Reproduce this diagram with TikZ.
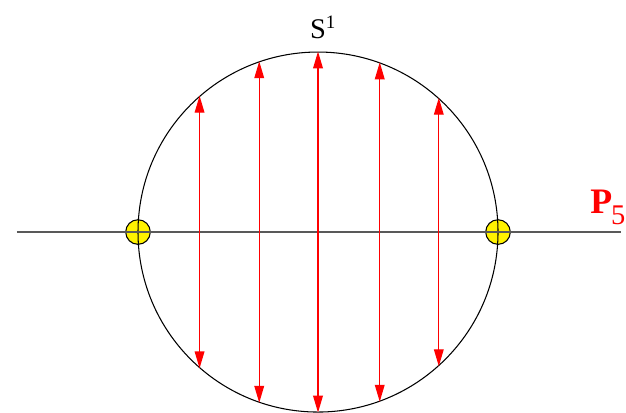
\documentclass[tikz,border=0pt]{standalone}
\usepackage{fontspec}
\setmainfont{Liberation Serif}
\usetikzlibrary{positioning,arrows.meta}

\begin{document}
\begin{tikzpicture}[
            pnt/.style={circle, draw, fill=yellow, minimum size=4.1mm, inner sep=0pt, line width=0.5pt},
            arr/.style={draw=red, line width=0.6pt, {Triangle[length=8pt,width=4.6pt]}-{Triangle[length=8pt,width=4.6pt]}},
            axis/.style={draw=black!65, line width=1pt},
            lbl/.style={inner sep=0pt, font=\fontsize{13.5}{15}\selectfont}
        ]
        \useasboundingbox (-5.3,-3.0) rectangle (5.133,3.867);

        % Fixed points on the axis
        \node[pnt] (L) at (-3,0) {};
        \node[pnt] (R) at (3,0)  {};

        % The circle
        \node[circle, draw, line width=0.5pt, minimum size=6cm, inner sep=0pt] (S) at (0,0) {};

        % Axis ends
        \coordinate (A) at (-5.02,0);
        \coordinate (B) at (5.05,0);
        \draw[axis] (A) -- (B);

        % Labels
        \node[lbl, anchor=base] (T) at (0.08,3.23) {S\raisebox{4.8pt}{\fontsize{9}{10}\selectfont 1}};
        \node[lbl, text=red, anchor=base east] (P) at (5.13,0.312)
            {{\fontsize{17}{19}\selectfont\bfseries P}\kern-0.5pt\raisebox{-5.5pt}{5}};

        % Vertical chords
        \draw[arr] (S.131.81) -- (S.-131.81);
        \draw[arr] (S.109.47) -- (S.-109.47);
        \draw[arr] (S.90)     -- (S.-90);
        \draw[arr] (S.70.53)  -- (S.-70.53);
        \draw[arr] (S.48.19)  -- (S.-48.19);
    \end{tikzpicture}
\end{document}
